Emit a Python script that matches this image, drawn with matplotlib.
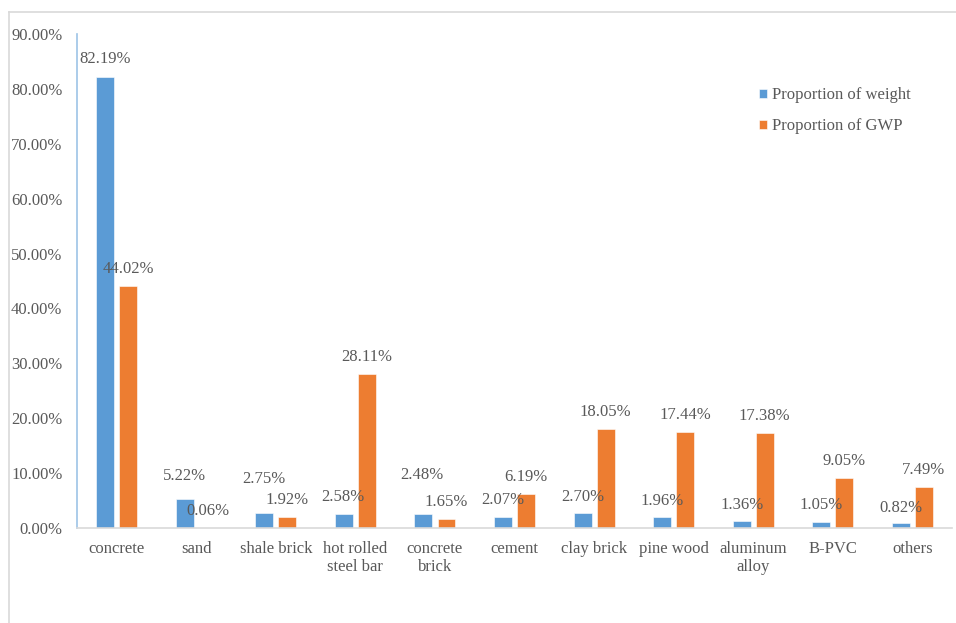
import matplotlib
matplotlib.use("Agg")
import matplotlib.pyplot as plt
import numpy as np
from matplotlib.lines import Line2D

categories = ["concrete", "sand", "shale brick", "hot rolled\nsteel bar", "concrete\nbrick",
              "cement", "clay brick", "pine wood", "aluminum\nalloy", "B-PVC", "others"]
weight = [82.19, 5.22, 2.75, 2.58, 2.48, 2.07, 2.70, 1.96, 1.36, 1.05, 0.82]
gwp = [44.02, 0.06, 1.92, 28.11, 1.65, 6.19, 18.05, 17.44, 17.38, 9.05, 7.49]
series_names = ["Proportion of weight", "Proportion of GWP"]
yticks = [0, 10, 20, 30, 40, 50, 60, 70, 80, 90]

# label offsets (pixels above bar top) for data labels
w_dy = [18, 23, 34, 17, 39, 17, 16, 16.5, 15.5, 17, 15.5]
w_dx = [0, 0, 0, -1, -2, 0, 0, 0, 1, 0, 0]
g_dy = [17] * 11
g_dx = [0, 0, 0, 0, 0, 0, 0, 0, 0, 0, 0]

plt.rcParams['font.family'] = ['Liberation Serif', 'DejaVu Serif']
TXT = '#595959'
BLUE = '#5B9BD5'
ORANGE = '#ED7D31'
FS = 12

fig = plt.figure(figsize=(9.56, 6.23), dpi=100)
ax = fig.add_axes([77/956, 95/623, 875/956, 494/623])

x = np.arange(len(categories))
bw = 0.226
off = 0.145
ax.bar(x - off, weight, bw, color=BLUE, edgecolor='white', linewidth=0.4, label=series_names[0])
ax.bar(x + off, gwp, bw, color=ORANGE, edgecolor='white', linewidth=0.4, label=series_names[1])

for i in range(len(categories)):
    ax.annotate(f"{weight[i]:.2f}%", (x[i] - off, weight[i]), xytext=(w_dx[i], w_dy[i]),
                textcoords='offset pixels', ha='center', va='center', fontsize=FS, color=TXT)
    ax.annotate(f"{gwp[i]:.2f}%", (x[i] + off, gwp[i]), xytext=(g_dx[i], g_dy[i]),
                textcoords='offset pixels', ha='center', va='center', fontsize=FS, color=TXT)

ax.set_xlim(-0.5, len(categories) - 0.5)
ax.set_ylim(0, 90)
ax.set_yticks(yticks)
ax.set_yticklabels([f"{t:.2f}%" for t in yticks], fontsize=FS, color=TXT)
ax.set_xticks(x)
ax.set_xticklabels(categories, fontsize=FS, color=TXT, linespacing=1.18)
ax.tick_params(axis='both', length=0)
ax.tick_params(axis='y', pad=10.5)
ax.tick_params(axis='x', pad=9.5)

for s in ['top', 'right']:
    ax.spines[s].set_visible(False)
ax.spines['left'].set_color('#9DC3E6')
ax.spines['left'].set_linewidth(1.2)
ax.spines['bottom'].set_color('#D9D9D9')
ax.spines['bottom'].set_linewidth(1.2)

leg = ax.legend(loc='upper left', bbox_to_anchor=(759/956, 1 - 87/623), bbox_transform=fig.transFigure,
                frameon=False, fontsize=FS, handlelength=0.45, handleheight=0.45, handletextpad=0.3,
                labelspacing=0.93, borderaxespad=0, borderpad=0)
for t in leg.get_texts():
    t.set_color(TXT)

# outer chart frame (top and left visible)
fig.add_artist(Line2D([8.5/956, 1], [1 - 12/623, 1 - 12/623], transform=fig.transFigure, color='#D9D9D9', lw=1.2))
fig.add_artist(Line2D([8.5/956, 8.5/956], [0, 1 - 12/623], transform=fig.transFigure, color='#D9D9D9', lw=1.2))

fig.savefig("out.png", dpi=100, facecolor='white')
